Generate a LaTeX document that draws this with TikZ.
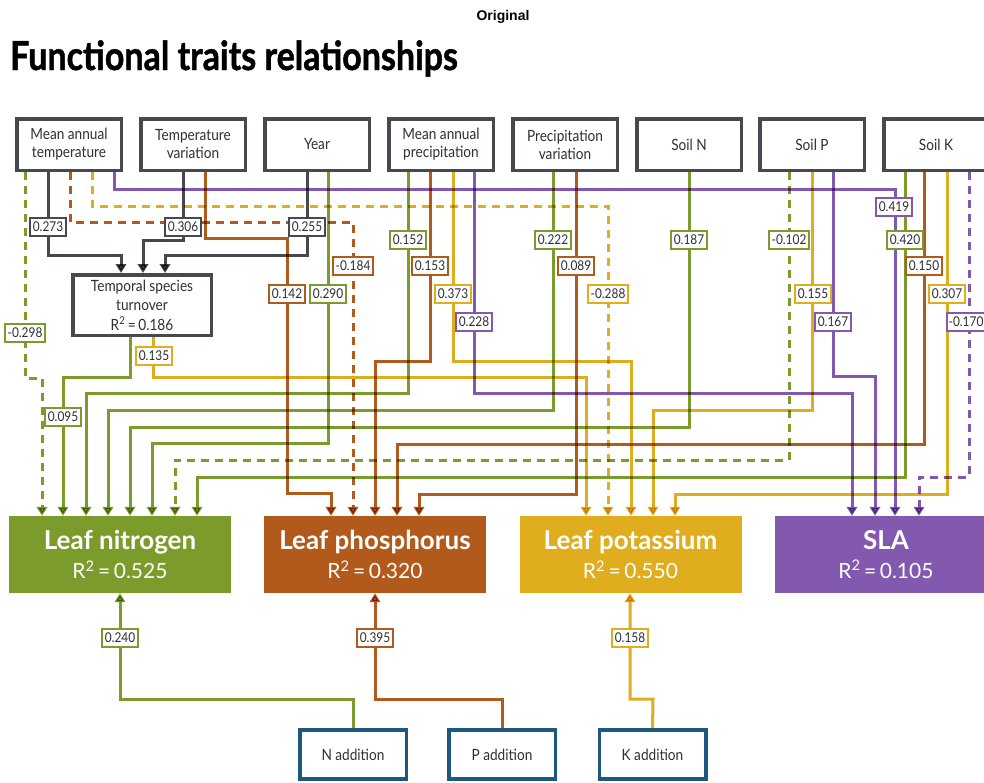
\documentclass[tikz,border=0pt]{standalone}
\usepackage{fontspec}
\setmainfont{Lato}
\newfontfamily\condfont[FakeStretch=0.88]{Lato}
\newfontfamily\headfont[FakeStretch=0.85,FakeBold=1.2]{Lato}
\newfontfamily\arialfont{Liberation Sans}
\usetikzlibrary{arrows.meta}
\definecolor{grn}{RGB}{123,155,43}
\definecolor{brn}{RGB}{177,90,27}
\definecolor{yel}{RGB}{224,173,31}
\definecolor{pur}{RGB}{131,89,176}
\definecolor{gry}{RGB}{70,74,80}
\definecolor{blu}{RGB}{29,88,126}
\definecolor{txt}{RGB}{45,48,52}
\newcommand{\fsz}[2]{\fontsize{#1}{#2}\selectfont}
\newcommand{\rsq}[1]{R\textsuperscript{2}\,=\,#1}
\begin{document}
\begin{tikzpicture}[x=1pt,y=-1pt,
  topbox/.style={draw=gry, line width=3.5pt, fill=white, minimum width=104.5pt,
    minimum height=51.5pt, align=center, inner sep=0pt, text=txt,
    font=\condfont\fsz{15.5}{18}},
  trait/.style={fill=#1, minimum width=222pt, minimum height=77pt, align=center,
    inner sep=0pt, text=white, font=\fsz{21}{29}},
  addbox/.style={draw=blu, line width=3.5pt, fill=white, minimum width=106.5pt,
    minimum height=49pt, inner sep=0pt, text=txt, font=\condfont\fsz{15.5}{18}},
  coef/.style={draw=#1, line width=2pt, fill=white, inner xsep=3pt, inner ysep=0pt,
    minimum height=17.5pt, text=txt, font=\condfont\fsz{13.5}{15}},
  link/.style={draw=#1, line width=3pt, -{Triangle[width=10.5pt,length=9pt]}},
  dsh/.style={dash pattern=on 8pt off 6pt}]

\fill[white] (0,0) rectangle (984,782);
\useasboundingbox (0,0) rectangle (984,782);

% headings
\node[font=\arialfont\bfseries\fsz{14}{16}] (orig) at (503,17) {Original};
\node[anchor=base west, inner sep=0pt, font=\headfont\bfseries\fsz{40}{44}] (title) at (10,70)
  {Functional traits relationships};

% drivers
\node[topbox] (mat) at (69,144.5)  {Mean annual\\temperature};
\node[topbox] (tv)  at (193,144.5) {Temperature\\variation};
\node[topbox] (yr)  at (317,144.5) {Year};
\node[topbox] (map) at (441,144.5) {Mean annual\\precipitation};
\node[topbox] (pv)  at (565,144.5) {Precipitation\\variation};
\node[topbox] (sn)  at (689,144.5) {Soil N};
\node[topbox] (sp)  at (812,144.5) {Soil P};
\node[topbox] (sk)  at (936,144.5) {Soil K};

\node[topbox, minimum width=138.5pt, minimum height=60.5pt, font=\condfont\fsz{15.5}{19.5}]
  (tst) at (142,305) {Temporal species\\turnover\\\rsq{0.186}};

% traits
\node[trait=grn] (nit) at (120,554.5)
  {{\bfseries\fontsize{26}{29}\selectfont Leaf nitrogen}\\\rsq{0.525}};
\node[trait=brn] (pho) at (375,554.5)
  {{\bfseries\fontsize{26}{29}\selectfont Leaf phosphorus}\\\rsq{0.320}};
\node[trait=yel] (pot) at (630.5,554.5)
  {{\bfseries\fontsize{26}{29}\selectfont Leaf potassium}\\\rsq{0.550}};
\node[trait=pur] (sla) at (886,554.5)
  {{\bfseries\fontsize{26}{29}\selectfont SLA}\\\rsq{0.105}};

% nutrient additions
\node[addbox] (nadd) at (353,754.5) {N addition};
\node[addbox] (padd) at (502,754.5) {P addition};
\node[addbox] (kadd) at (652.5,754.5) {K addition};

\begin{scope}[blend mode=multiply]
% paths from mean annual temperature
\draw[link=grn, dsh] (mat.south -| 25,0) -- (25,378) -- (42,378) -- (nit.north -| 42,0);
\draw[link=gry] (mat.south -| 48,0) -- (48,255) -- (121,255) -- (tst.north -| 121,0);
\draw[link=brn, dsh] (mat.south -| 70,0) -- (70,222) -- (353,222) -- (pho.north -| 353,0);
\draw[link=yel, dsh] (mat.south -| 92,0) -- (92,206) -- (608,206) -- (pot.north -| 608,0);
\draw[link=pur] (mat.south -| 114,0) -- (114,189) -- (895,189) -- (sla.north -| 895,0);
% temperature variation
\draw[link=gry] (tv.south -| 183,0) -- (183,240) -- (143,240) -- (tst.north -| 143,0);
\draw[link=brn] (tv.south -| 205,0) -- (205,238) -- (287,238) -- (287,493) -- (331,493) -- (pho.north -| 331,0);
% year
\draw[link=gry] (yr.south -| 307,0) -- (307,255) -- (165,255) -- (tst.north -| 165,0);
\draw[link=grn] (yr.south -| 328,0) -- (328,443) -- (152,443) -- (nit.north -| 152,0);
% mean annual precipitation
\draw[link=grn] (map.south -| 408,0) -- (408,393) -- (86,393) -- (nit.north -| 86,0);
\draw[link=brn] (map.south -| 430,0) -- (430,361) -- (375,361) -- (pho.north -| 375,0);
\draw[link=yel] (map.south -| 453,0) -- (453,361) -- (631,361) -- (pot.north -| 631,0);
\draw[link=pur] (map.south -| 474,0) -- (474,393) -- (852,393) -- (sla.north -| 852,0);
% precipitation variation
\draw[link=grn] (pv.south -| 553,0) -- (553,410) -- (108,410) -- (nit.north -| 108,0);
\draw[link=brn] (pv.south -| 576,0) -- (576,494) -- (419,494) -- (pho.north -| 419,0);
% soil N
\draw[link=grn] (sn.south -| 689,0) -- (689,427) -- (130,427) -- (nit.north -| 130,0);
% soil P
\draw[link=grn, dsh] (sp.south -| 789,0) -- (789,460) -- (175,460) -- (nit.north -| 175,0);
\draw[link=yel] (sp.south -| 812,0) -- (812,410) -- (653,410) -- (pot.north -| 653,0);
\draw[link=pur] (sp.south -| 833,0) -- (833,376) -- (875,376) -- (sla.north -| 875,0);
% soil K
\draw[link=grn] (sk.south -| 905,0) -- (905,477) -- (197,477) -- (nit.north -| 197,0);
\draw[link=brn] (sk.south -| 924,0) -- (924,444) -- (397,444) -- (pho.north -| 397,0);
\draw[link=yel] (sk.south -| 947,0) -- (947,494) -- (675,494) -- (pot.north -| 675,0);
\draw[link=pur, dsh] (sk.south -| 969,0) -- (969,477) -- (919,477) -- (sla.north -| 919,0);
% temporal species turnover
\draw[link=grn] (tst.south -| 130,0) -- (130,377) -- (63,377) -- (nit.north -| 63,0);
\draw[link=yel] (tst.south -| 153,0) -- (153,377) -- (586,377) -- (pot.north -| 586,0);
% additions
\draw[link=grn] (nadd.north) -- (353,699) -- (120,699) -- (nit.south -| 120,0);
\draw[link=brn] (padd.north) -- (502,699) -- (375,699) -- (pho.south -| 375,0);
\draw[link=yel] (kadd.north) -- (653,699) -- (630,699) -- (pot.south -| 630,0);
\end{scope}

% path coefficients
\node[coef=grn] (c1)  at (25,333)  {-0.298};
\node[coef=gry] (c2)  at (48,227)  {0.273};
\node[coef=pur] (c3)  at (894,207) {0.419};
\node[coef=gry] (c4)  at (183,227) {0.306};
\node[coef=brn] (c5)  at (287,294) {0.142};
\node[coef=gry] (c6)  at (307,227) {0.255};
\node[coef=grn] (c7)  at (328,294) {0.290};
\node[coef=grn] (c8)  at (408,240) {0.152};
\node[coef=brn] (c9)  at (430,266) {0.153};
\node[coef=yel] (c10) at (453,294) {0.373};
\node[coef=pur] (c11) at (474,322) {0.228};
\node[coef=grn] (c12) at (553,240) {0.222};
\node[coef=brn] (c13) at (576,266) {0.089};
\node[coef=grn] (c14) at (689,240) {0.187};
\node[coef=grn] (c15) at (789,240) {-0.102};
\node[coef=yel] (c16) at (813,294) {0.155};
\node[coef=pur] (c17) at (833,322) {0.167};
\node[coef=grn] (c18) at (905,240) {0.420};
\node[coef=brn] (c19) at (924,266) {0.150};
\node[coef=yel] (c20) at (947,294) {0.307};
\node[coef=pur, inner xsep=2pt] (c21) at (966,322) {-0.170};
\node[coef=brn] (c22) at (353,266) {-0.184};
\node[coef=yel] (c23) at (608,294) {-0.288};
\node[coef=yel] (c24) at (154,356) {0.135};
\node[coef=grn] (c25) at (63,417)  {0.095};
\node[coef=grn] (c26) at (120,638) {0.240};
\node[coef=brn] (c27) at (375,638) {0.395};
\node[coef=yel] (c28) at (630,638) {0.158};
\end{tikzpicture}
\end{document}
